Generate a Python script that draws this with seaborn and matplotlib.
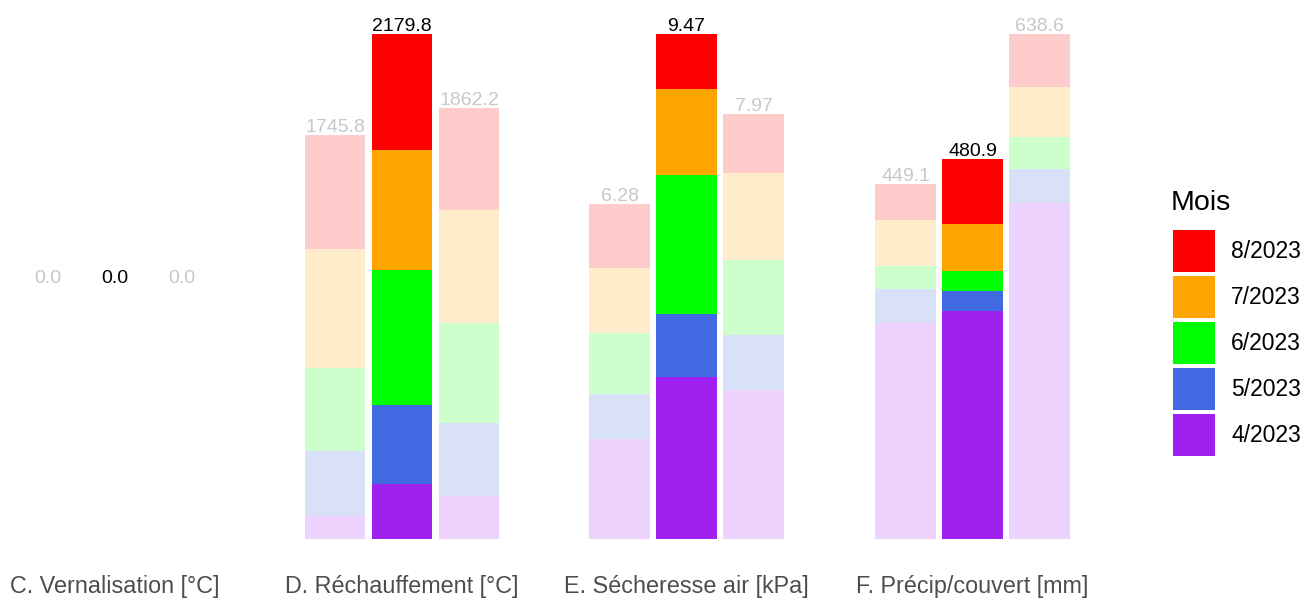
import numpy as np
import pandas as pd
import seaborn as sns
import matplotlib
matplotlib.use("Agg")
import matplotlib.pyplot as plt
from matplotlib.patches import Rectangle
from matplotlib.colors import to_rgb

# ---------------- data ----------------
months = ["4/2023", "5/2023", "6/2023", "7/2023", "8/2023"]
month_colors = ["#A020F0", "#4169E1", "#00FF00", "#FFA500", "#FF0000"]
bars = ["prev", "cur", "next"]

panel_titles = ["C. Vernalisation [°C]", "D. Réchauffement [°C]",
                "E. Sécheresse air [kPa]", "F. Précip/couvert [mm]"]
label_fmt = ["{:.1f}", "{:.1f}", "{:.2f}", "{:.1f}"]

# values per month (4/2023 .. 8/2023) for the three bars of each panel
C_prev = [0, 0, 0, 0, 0]
C_cur = [0, 0, 0, 0, 0]
C_next = [0, 0, 0, 0, 0]

D_prev = [96.9, 284.2, 354.8, 514.4, 495.5]
D_cur = [238.0, 341.7, 581.6, 517.5, 501.0]
D_next = [185.6, 313.8, 432.0, 487.9, 442.9]

E_prev = [1.88, 0.84, 1.15, 1.22, 1.19]
E_cur = [3.03, 1.18, 2.61, 1.63, 1.02]
E_next = [2.79, 1.04, 1.40, 1.63, 1.11]

F_prev = [273.3, 43.0, 29.5, 58.2, 45.1]
F_cur = [288.1, 24.9, 25.3, 59.5, 83.1]
F_next = [424.7, 43.5, 40.5, 62.8, 67.1]

panels = [
    (C_prev, C_cur, C_next),
    (D_prev, D_cur, D_next),
    (E_prev, E_cur, E_next),
    (F_prev, F_cur, F_next),
]

# ---------------- style ----------------
sns.set_theme(style="white")
plt.rcParams["font.family"] = ["Liberation Sans", "DejaVu Sans"]

W, H = 1306, 598
fig = plt.figure(figsize=(W / 100, H / 100), dpi=100)


def pale(c, a=0.2):
    r, g, b = to_rgb(c)
    return (r * a + 1 - a, g * a + 1 - a, b * a + 1 - a)


unit = 67.0            # px per category
centers = [115, 402, 686.5, 972.5]   # px centre of middle bar
y_top, y_bot = 9, 564  # px panel extent

for p, (vals, title, fmt, cx) in enumerate(zip(panels, panel_titles, label_fmt, centers)):
    left = cx - unit - 0.6 * unit
    width = 3.2 * unit
    ax = fig.add_axes([left / W, 1 - y_bot / H, width / W, (y_bot - y_top) / H])
    ax.set_axis_off()

    df = pd.DataFrame({
        "bar": np.repeat(bars, len(months)),
        "month": months * 3,
        "value": np.concatenate([vals[0], vals[1], vals[2]]),
    })
    df["cum"] = df.groupby("bar")["value"].cumsum()
    totals = df.groupby("bar")["value"].sum().reindex(bars)

    # draw cumulative bars from top month downwards (overlap -> stacking)
    for m in range(len(months) - 1, -1, -1):
        sub = df[df["month"] == months[m]]
        pal = {b: (month_colors[m] if b == "cur" else pale(month_colors[m])) for b in bars}
        sns.barplot(data=sub, x="bar", y="cum", hue="bar", order=bars,
                    hue_order=bars, palette=pal, width=0.9, saturation=1,
                    legend=False, ax=ax, linewidth=0)

    vmax = totals.max()
    if vmax > 0:
        ax.set_ylim(-0.05 * vmax, 1.05 * vmax)
    else:
        ax.set_ylim(-1, 1)
    ax.set_xlim(-0.6, 2.6)
    ax.set_axis_off()

    for i, b in enumerate(bars):
        ax.annotate(fmt.format(totals[b]), xy=(i, totals[b]), xytext=(0, 2.2),
                    textcoords="offset points", ha="center", va="baseline",
                    fontsize=14, color="black" if b == "cur" else "#C8C8C8")

    fig.text(cx / W, 1 - 586 / H, title, ha="center", va="center",
             fontsize=16.8, color="#4D4D4D")

# ---------------- legend (drawn in figure pixels) ----------------
fig.text(1171 / W, 1 - 210 / H, "Mois", ha="left", va="baseline",
         fontsize=20.5, color="black")
key_x, key_w, key_top0, pitch = 1173, 42, 230, 46
for k, m in enumerate(range(len(months) - 1, -1, -1)):
    top = key_top0 + k * pitch
    fig.add_artist(Rectangle((key_x / W, 1 - (top + key_w) / H), key_w / W, key_w / H,
                             transform=fig.transFigure, facecolor=month_colors[m],
                             edgecolor="none"))
    fig.text(1231 / W, 1 - (top + key_w / 2) / H, months[m], ha="left",
             va="center", fontsize=16.5, color="black")

fig.savefig("out.png", dpi=100, facecolor="white")
